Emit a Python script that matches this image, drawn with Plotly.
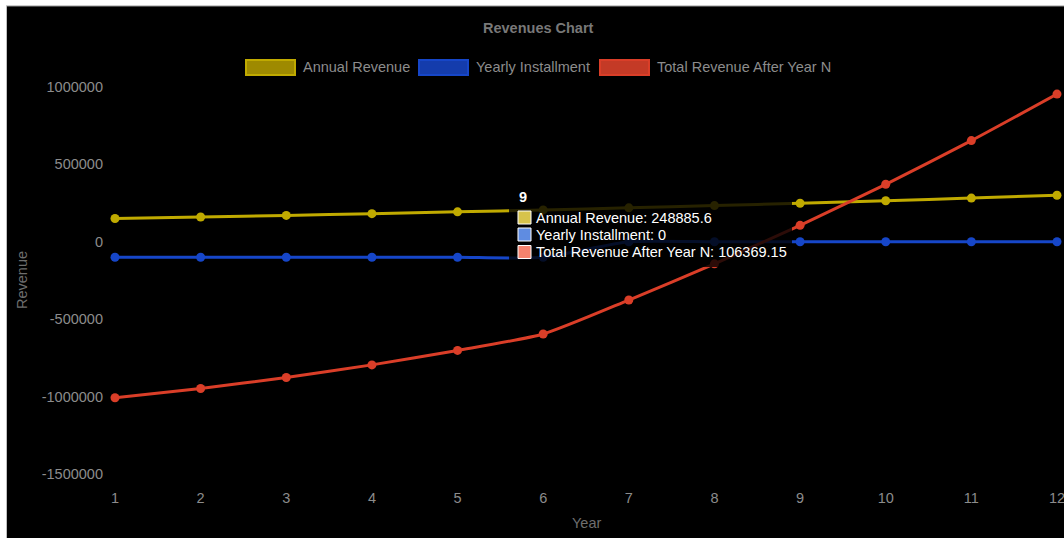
import plotly.graph_objects as go

# ---- data ----
years = [1, 2, 3, 4, 5, 6, 7, 8, 9, 10, 11, 12]
annual_revenue = [150384.0, 160159.0, 170569.0, 181656.0, 193464.0, 206039.0,
                  219431.0, 233694.0, 248885.6, 265063.0, 282292.0, 300641.0]
yearly_installment = [-100000, -100000, -100000, -100000, -100000, -100000,
                      0, 0, 0, 0, 0, 0]
total_revenue = [-1007529.0, -947370.0, -876801.0, -795145.0, -701681.0, -595642.0,
                 -376211.0, -142517.0, 106369.15, 371432.0, 653724.0, 954365.0]

series_names = ["Annual Revenue", "Yearly Installment", "Total Revenue After Year N"]
y_ticks = [-1500000, -1000000, -500000, 0, 500000, 1000000]
y_tick_text = [str(v) for v in y_ticks]

# colours: line/border, legend fill, tooltip key
line_colors = ["rgb(192,170,0)", "rgb(22,70,200)", "rgb(218,62,40)"]
fill_colors = ["rgb(158,138,0)", "rgb(20,60,172)", "rgb(196,58,38)"]
key_colors = ["rgb(215,195,75)", "rgb(95,140,225)", "rgb(245,130,110)"]

W, H = 1064, 538
ML, MR, MT, MB = 115, 7, 87, 64
PW, PH = W - ML - MR, H - MT - MB


def px(x):
    return (x - ML) / PW


def py(y):
    return (H - MB - y) / PH


TEXT = "rgb(140,140,140)"
FONT = "Liberation Sans, Arial, Helvetica, sans-serif"
FS = 14.5

fig = go.Figure()
for name, vals, col in zip(series_names,
                           [annual_revenue, yearly_installment, total_revenue],
                           line_colors):
    fig.add_trace(go.Scatter(
        x=years, y=vals, name=name, mode="lines+markers",
        line=dict(color=col, width=3, shape="spline", smoothing=0.6),
        marker=dict(color=col, size=9),
        cliponaxis=False, showlegend=False,
    ))

shapes = []
annotations = []

# canvas background with a thin frame on the top and left
shapes.append(dict(type="rect", xref="paper", yref="paper", layer="below",
                   x0=px(7), x1=px(W + 2), y0=py(6), y1=py(H + 2),
                   fillcolor="black", line=dict(width=0)))
shapes.append(dict(type="line", xref="paper", yref="paper", layer="below",
                   x0=px(6), x1=px(W), y0=py(6), y1=py(6),
                   line=dict(color="rgb(150,150,150)", width=1)))
shapes.append(dict(type="line", xref="paper", yref="paper", layer="below",
                   x0=px(6.5), x1=px(6.5), y0=py(6), y1=py(H),
                   line=dict(color="rgb(190,190,190)", width=1)))


def label(text, x, y, size=FS, color=TEXT, xanchor="center", angle=0):
    annotations.append(dict(text=text, xref="paper", yref="paper",
                            x=px(x), y=py(y), xanchor=xanchor, yanchor="middle",
                            textangle=angle, showarrow=False,
                            font=dict(size=size, color=color, family=FONT)))


# title
label("<b>Revenues Chart</b>", 538, 28, color="rgb(120,120,120)")

# legend
legend_boxes = [(245, 296), (418, 469), (599, 650)]
for (x0, x1), name, lc, fc in zip(legend_boxes, series_names, line_colors, fill_colors):
    shapes.append(dict(type="rect", xref="paper", yref="paper",
                       x0=px(x0 + 1), x1=px(x1 - 1), y0=py(60), y1=py(75),
                       fillcolor=fc, line=dict(color=lc, width=2)))
    label(name, x1 + 5, 67.5, xanchor="left")

# axis titles
label("Revenue", 22, 280, color="rgb(110,110,110)", angle=-90)
label("Year", 586, 523, color="rgb(110,110,110)")

# hover box for year 9
idx = years.index(9)
shapes.append(dict(type="rect", xref="paper", yref="paper", layer="above",
                   x0=px(509), x1=px(792), y0=py(187), y1=py(267),
                   fillcolor="rgba(0,0,0,0.8)", line=dict(width=0)))
label("<b>%d</b>" % years[idx], 517, 197, color="white", xanchor="left")
rows = [
    "%s: %s" % (series_names[0], repr(annual_revenue[idx])),
    "%s: %d" % (series_names[1], yearly_installment[idx]),
    "%s: %.2f" % (series_names[2], total_revenue[idx]),
]
row_y = [217.5, 234.5, 252]
for text, yc, kc in zip(rows, row_y, key_colors):
    shapes.append(dict(type="rect", xref="paper", yref="paper", layer="above",
                       x0=px(518), x1=px(531), y0=py(yc - 6.5), y1=py(yc + 6.5),
                       fillcolor=kc, line=dict(color="white", width=1)))
    label(text, 534, yc, color="white", xanchor="left")

fig.update_layout(
    width=W, height=H,
    margin=dict(l=ML, r=MR, t=MT, b=MB, pad=0, autoexpand=False),
    paper_bgcolor="white", plot_bgcolor="black",
    font=dict(family=FONT, size=FS, color=TEXT),
    shapes=shapes, annotations=annotations,
    showlegend=False,
    xaxis=dict(range=[1, 12], tickvals=years, ticktext=[str(y) for y in years],
               showgrid=False, zeroline=False, showline=False, automargin=False,
               ticks="", ticklabelstandoff=13, ticklabeloverflow="allow",
               tickfont=dict(size=FS, color=TEXT, family=FONT)),
    yaxis=dict(range=[-1500000, 1000000], tickvals=y_ticks, ticktext=y_tick_text,
               showgrid=False, zeroline=False, showline=False, automargin=False,
               ticks="", ticklabelstandoff=11, ticklabeloverflow="allow",
               tickfont=dict(size=FS, color=TEXT, family=FONT)),
)

fig.write_html("out.html")
